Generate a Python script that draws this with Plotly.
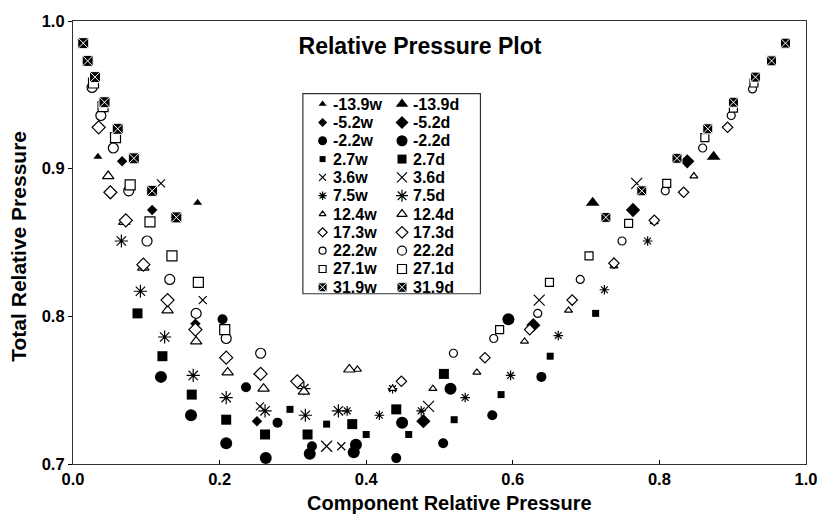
import plotly.graph_objects as go

# ---------------- data (component relative pressure, total relative pressure) ----------------
series_names = ["-13.9", "-5.2", "-2.2", "2.7", "3.6", "7.5", "12.4", "17.3", "22.2", "27.1", "31.9"]

m13_9w_x = [0.034, 0.170]
m13_9w_y = [0.908, 0.877]
m13_9d_x = [0.709, 0.874]
m13_9d_y = [0.877, 0.908]

m5_2w_x = [0.067, 0.108, 0.167, 0.253, 0.251]
m5_2w_y = [0.905, 0.872, 0.795, 0.761, 0.729]
m5_2d_x = [0.478, 0.628, 0.764, 0.838]
m5_2d_y = [0.729, 0.794, 0.872, 0.905]

m2_2w_x = [0.204, 0.236, 0.279, 0.326, 0.441, 0.505, 0.572, 0.639]
m2_2w_y = [0.798, 0.752, 0.728, 0.712, 0.704, 0.714, 0.733, 0.759]
m2_2d_x = [0.120, 0.161, 0.209, 0.263, 0.323, 0.383, 0.386, 0.449, 0.515, 0.594]
m2_2d_y = [0.759, 0.733, 0.714, 0.704, 0.707, 0.708, 0.713, 0.728, 0.751, 0.798]

p2_7w_x = [0.296, 0.346, 0.400, 0.458, 0.520, 0.584, 0.651, 0.713]
p2_7w_y = [0.737, 0.727, 0.720, 0.720, 0.730, 0.747, 0.773, 0.802]
p2_7d_x = [0.088, 0.122, 0.162, 0.209, 0.262, 0.320, 0.381, 0.441, 0.506]
p2_7d_y = [0.802, 0.773, 0.747, 0.730, 0.720, 0.720, 0.727, 0.737, 0.761]

p3_6w_x = [0.120, 0.177, 0.255, 0.366]
p3_6w_y = [0.890, 0.811, 0.739, 0.712]
p3_6d_x = [0.346, 0.485, 0.636, 0.769]
p3_6d_y = [0.712, 0.739, 0.811, 0.890]

p7_5w_x = [0.374, 0.418, 0.436, 0.475, 0.535, 0.597, 0.662, 0.725, 0.784]
p7_5w_y = [0.736, 0.733, 0.751, 0.736, 0.745, 0.760, 0.787, 0.818, 0.851]
p7_5d_x = [0.066, 0.092, 0.125, 0.164, 0.209, 0.262, 0.315, 0.317, 0.362]
p7_5d_y = [0.851, 0.817, 0.786, 0.760, 0.745, 0.736, 0.751, 0.733, 0.736]

p12_4w_x = [0.388, 0.436, 0.491, 0.551, 0.616, 0.676, 0.738, 0.793, 0.847]
p12_4w_y = [0.764, 0.751, 0.751, 0.762, 0.783, 0.804, 0.834, 0.864, 0.895]
p12_4d_x = [0.048, 0.070, 0.096, 0.129, 0.168, 0.211, 0.260, 0.315, 0.377]
p12_4d_y = [0.895, 0.864, 0.833, 0.804, 0.783, 0.762, 0.751, 0.749, 0.764]

p17_3w_x = [0.448, 0.562, 0.623, 0.681, 0.738, 0.793, 0.833, 0.893]
p17_3w_y = [0.756, 0.772, 0.791, 0.811, 0.836, 0.865, 0.884, 0.928]
p17_3d_x = [0.035, 0.051, 0.072, 0.096, 0.129, 0.167, 0.209, 0.256, 0.306]
p17_3d_y = [0.928, 0.884, 0.865, 0.835, 0.811, 0.791, 0.772, 0.761, 0.756]

p22_2w_x = [0.519, 0.574, 0.634, 0.692, 0.749, 0.808, 0.859, 0.898, 0.927]
p22_2w_y = [0.775, 0.785, 0.802, 0.825, 0.851, 0.885, 0.914, 0.936, 0.954]
p22_2d_x = [0.026, 0.038, 0.055, 0.076, 0.101, 0.132, 0.168, 0.209, 0.256]
p22_2d_y = [0.955, 0.936, 0.914, 0.885, 0.851, 0.825, 0.802, 0.785, 0.775]

p27_1w_x = [0.582, 0.650, 0.704, 0.758, 0.810, 0.862, 0.901, 0.929]
p27_1w_y = [0.791, 0.823, 0.841, 0.863, 0.890, 0.921, 0.941, 0.958]
p27_1d_x = [0.028, 0.041, 0.058, 0.078, 0.105, 0.135, 0.171, 0.207]
p27_1d_y = [0.958, 0.942, 0.921, 0.889, 0.864, 0.841, 0.823, 0.791]

p31_9w_x = [0.727, 0.776, 0.824, 0.866, 0.901, 0.931, 0.953, 0.972]
p31_9w_y = [0.867, 0.885, 0.907, 0.927, 0.945, 0.962, 0.973, 0.985]
p31_9d_x = [0.014, 0.020, 0.030, 0.043, 0.061, 0.083, 0.108, 0.141]
p31_9d_y = [0.985, 0.973, 0.962, 0.945, 0.927, 0.907, 0.885, 0.867]

x_ticks = [0.0, 0.2, 0.4, 0.6, 0.8, 1.0]
y_ticks = [0.7, 0.8, 0.9, 1.0]

data_w = [(m13_9w_x, m13_9w_y), (m5_2w_x, m5_2w_y), (m2_2w_x, m2_2w_y), (p2_7w_x, p2_7w_y),
          (p3_6w_x, p3_6w_y), (p7_5w_x, p7_5w_y), (p12_4w_x, p12_4w_y), (p17_3w_x, p17_3w_y),
          (p22_2w_x, p22_2w_y), (p27_1w_x, p27_1w_y), (p31_9w_x, p31_9w_y)]
data_d = [(m13_9d_x, m13_9d_y), (m5_2d_x, m5_2d_y), (m2_2d_x, m2_2d_y), (p2_7d_x, p2_7d_y),
          (p3_6d_x, p3_6d_y), (p7_5d_x, p7_5d_y), (p12_4d_x, p12_4d_y), (p17_3d_x, p17_3d_y),
          (p22_2d_x, p22_2d_y), (p27_1d_x, p27_1d_y), (p31_9d_x, p31_9d_y)]

# ---------------- styles ----------------
BLACK = "#000000"
WHITE = "#ffffff"
# symbol, fill, line color, line width, size_w, size_d
styles = [
    ("triangle-up", BLACK, BLACK, 0, 8, 12),
    ("diamond", BLACK, BLACK, 0, 8, 11),
    ("circle", BLACK, BLACK, 0, 10, 12),
    ("square", BLACK, BLACK, 0, 7, 10),
    ("x-thin-open", BLACK, BLACK, 1.2, 8, 11),
    ("asterisk-open", BLACK, BLACK, 1.2, 8, 11),
    ("triangle-up", WHITE, BLACK, 1.2, 7, 10),
    ("diamond", WHITE, BLACK, 1.2, 8, 10),
    ("circle", WHITE, BLACK, 1.2, 8, 10),
    ("square", WHITE, BLACK, 1.2, 8, 10),
    ("square-x", BLACK, WHITE, 1.0, 10, 11),
]

FONT = "Liberation Sans, Arial, Helvetica, sans-serif"

fig = go.Figure()

def marker(st, size):
    sym, fill, lc, lw, _, _ = st
    return dict(symbol=sym, color=fill, size=size, line=dict(color=lc, width=lw))

for name, st, (xw, yw), (xd, yd) in zip(series_names, styles, data_w, data_d):
    fig.add_trace(go.Scatter(x=xw, y=yw, mode="markers", name=name + "w",
                             marker=marker(st, st[4]), showlegend=False, cliponaxis=False))
    fig.add_trace(go.Scatter(x=xd, y=yd, mode="markers", name=name + "d",
                             marker=marker(st, st[5]), showlegend=False, cliponaxis=False))

# ---------------- legend (drawn on a pixel-unit overlay axis) ----------------
L, R, T, B = 73, 816, 19, 464
LEG_BOX = (306, 486, 92, 293)
LEG_ROW0, LEG_DY = 102.5, 18.4
COL_MARK = {"w": 326, "d": 406.5}
TEXT_GAP = 9

for i, (name, st) in enumerate(zip(series_names, styles)):
    yy = LEG_ROW0 + LEG_DY * i
    for suf, sz in (("w", st[4] - 1), ("d", st[5] - 1)):
        fig.add_trace(go.Scatter(x=[COL_MARK[suf]], y=[yy], mode="markers", xaxis="x2", yaxis="y2",
                                 marker=marker(st, sz), showlegend=False, hoverinfo="skip"))
        fig.add_annotation(x=COL_MARK[suf] + TEXT_GAP, y=yy, xref="x2", yref="y2", text=name + suf,
                           showarrow=False, xanchor="left", yanchor="middle",
                           font=dict(family=FONT, size=16, color=BLACK, weight="bold"))

fig.add_shape(type="rect", xref="x2", yref="y2", x0=LEG_BOX[0], x1=LEG_BOX[1], y0=LEG_BOX[2], y1=LEG_BOX[3],
              line=dict(color="#333333", width=1.2), fillcolor="rgba(0,0,0,0)")

# axis titles placed as annotations (pixel positions converted to paper units)
def px_to_paper_x(px):
    return (px - L) / (R - L)

def px_to_paper_y(py):
    return (B - py) / (B - T)

fig.add_annotation(x=px_to_paper_x(455), y=px_to_paper_y(503), xref="paper", yref="paper",
                   text="Component Relative Pressure", showarrow=False, xanchor="center", yanchor="middle",
                   font=dict(family=FONT, size=20, color=BLACK, weight="bold"))
fig.add_annotation(x=px_to_paper_x(18), y=px_to_paper_y(245), xref="paper", yref="paper",
                   text="Total Relative Pressure", textangle=-90, showarrow=False,
                   xanchor="center", yanchor="middle",
                   font=dict(family=FONT, size=21, color=BLACK, weight="bold"))

axis_font = dict(family=FONT, size=16.5, color=BLACK, weight="bold")

fig.update_layout(
    width=829, height=521,
    margin=dict(l=L, r=829 - R, t=T, b=521 - B, pad=0),
    paper_bgcolor=WHITE, plot_bgcolor=WHITE,
    showlegend=False,
    title=dict(text="<b>Relative Pressure Plot</b>", x=420 / 829, xanchor="center",
               y=1 - 46 / 521, yanchor="middle", font=dict(family=FONT, size=23, color=BLACK)),
    xaxis=dict(range=[0, 1], tickvals=x_ticks, ticktext=[f"{v:.1f}" for v in x_ticks],
               ticks="inside", ticklen=4, tickcolor=BLACK, showgrid=False, zeroline=False,
               showline=True, mirror=True, linecolor="#333333", linewidth=1.2,
               tickfont=axis_font),
    yaxis=dict(range=[0.7, 1.0], tickvals=y_ticks, ticktext=[f"{v:.1f}" for v in y_ticks],
               ticks="outside", ticklen=4, tickcolor=BLACK, showgrid=False, zeroline=False,
               showline=True, mirror=True, linecolor="#333333", linewidth=1.2,
               tickfont=axis_font),
    xaxis2=dict(range=[L, R], overlaying="x", visible=False, fixedrange=True),
    yaxis2=dict(range=[B, T], overlaying="y", visible=False, fixedrange=True),
)

fig.write_html("out.html", config={"displayModeBar": False},
               post_script="document.body.style.margin='0px';document.body.style.padding='0px';")
